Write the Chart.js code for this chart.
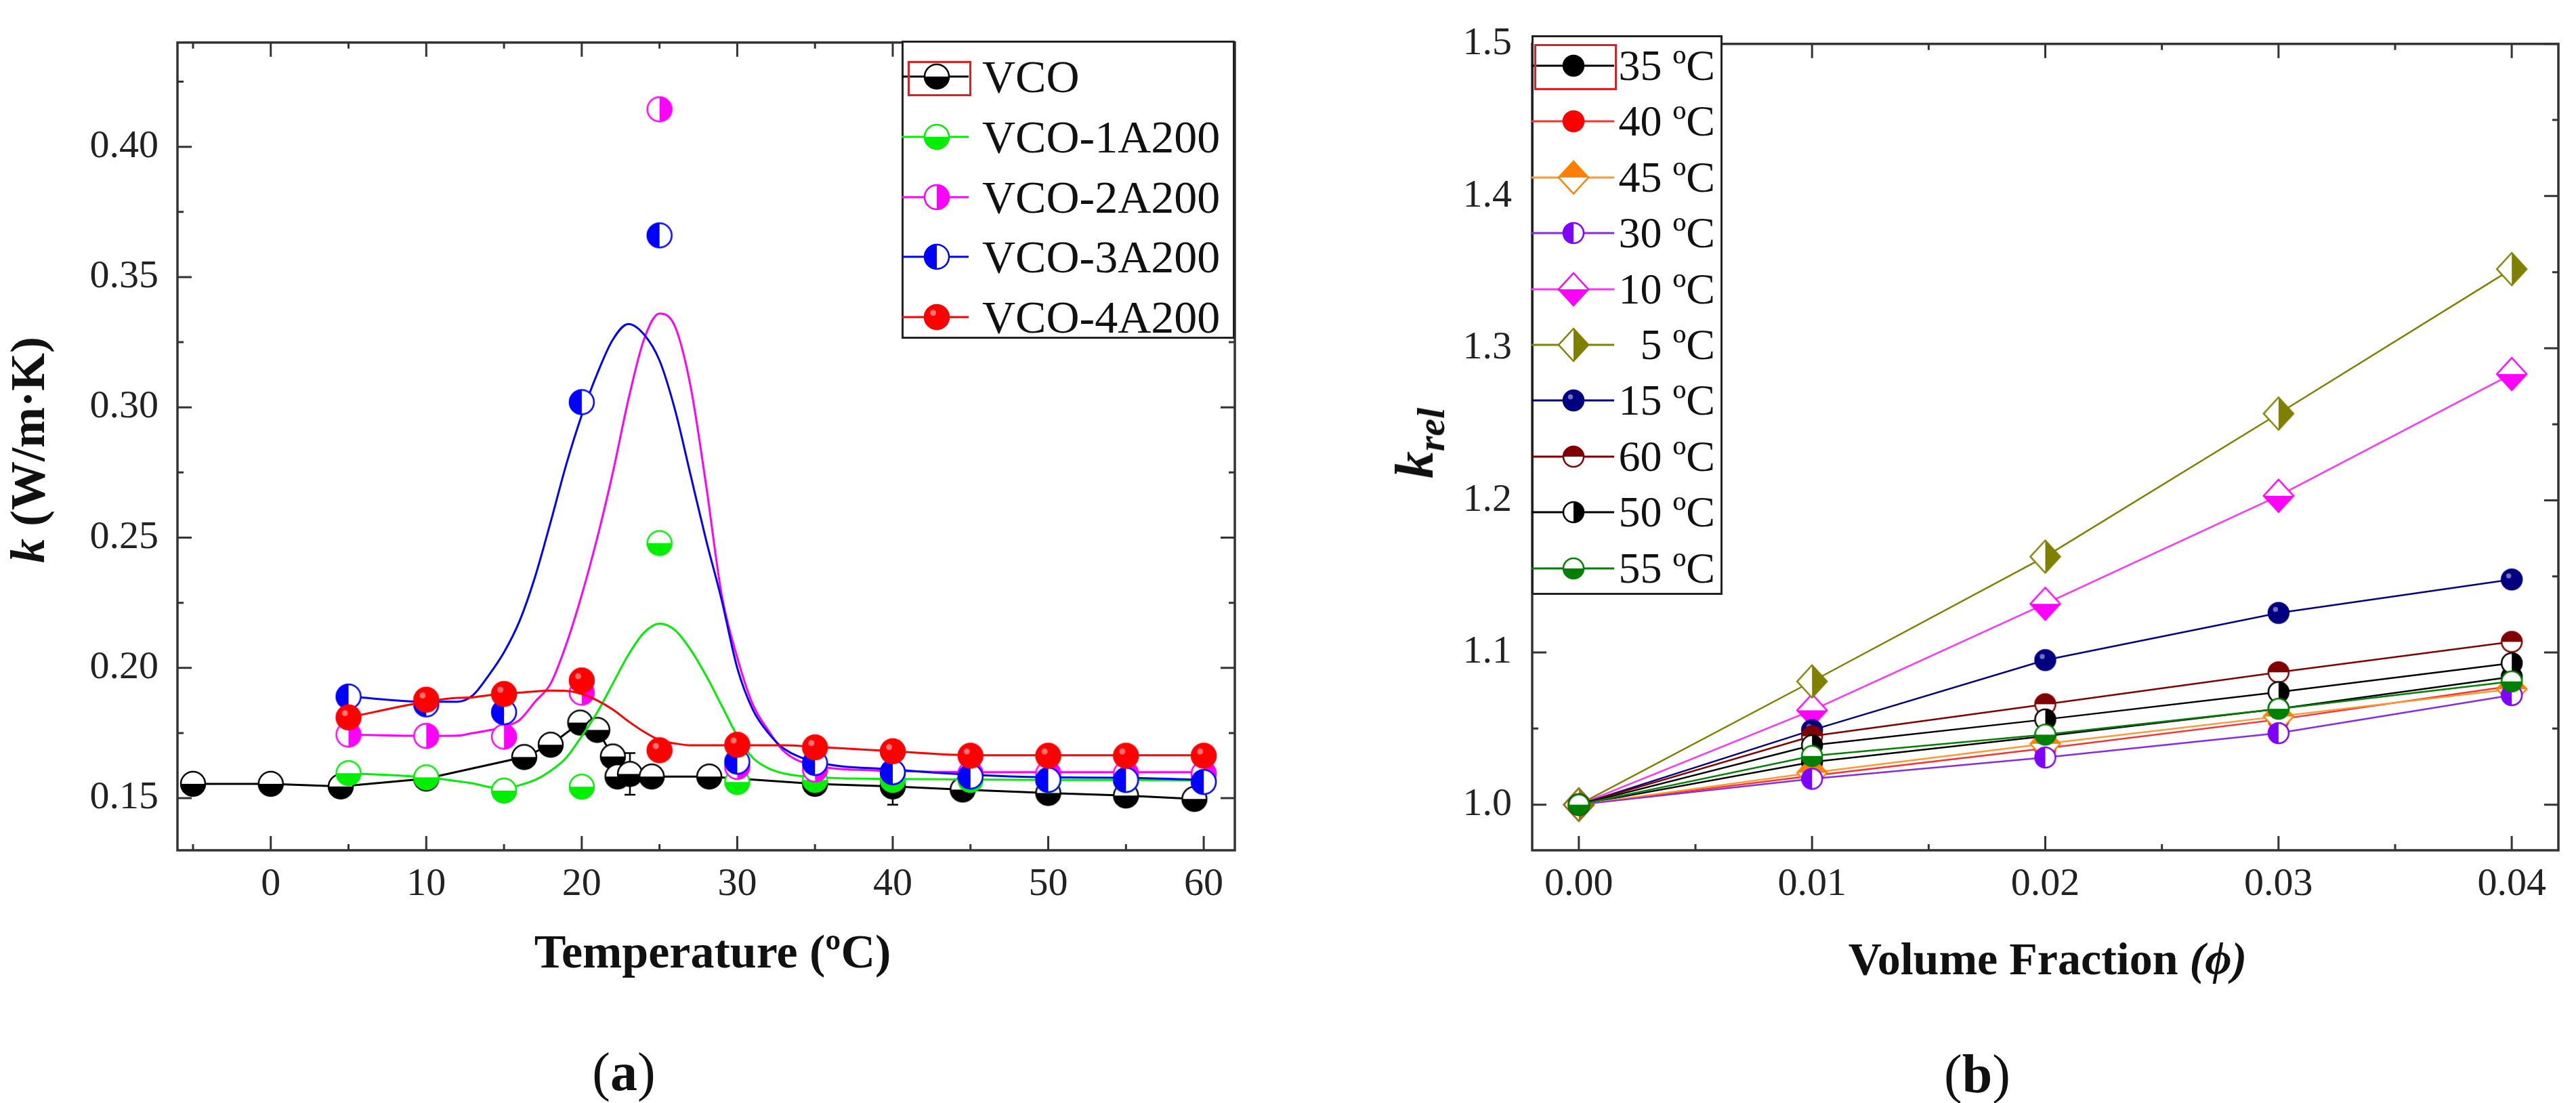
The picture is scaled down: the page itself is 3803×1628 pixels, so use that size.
<!DOCTYPE html>
<html>
<head>
<meta charset="utf-8">
<script src="https://cdn.jsdelivr.net/npm/chart.js@4.4.0/dist/chart.umd.min.js"></script>
<style>
  body { margin:0; background:#fff; width:3803px; height:1628px; position:relative; overflow:hidden;
         font-family:'Liberation Serif','Times New Roman',serif; color:#111; }
  canvas.chart { position:absolute; top:0; }
  .lbl { position:absolute; transform:translate(-50%,-50%); white-space:nowrap; line-height:1; }
  .legend { position:absolute; background:#fff; border:3px solid #222; box-sizing:border-box; }
  .legend span { position:absolute; white-space:nowrap; line-height:1; transform:translateY(-50%); }
  .legend canvas { position:absolute; }
</style>
</head>
<body>
<canvas id="chartA" class="chart" width="1900" height="1628" style="left:0"></canvas>
<canvas id="chartB" class="chart" width="1903" height="1628" style="left:1900px"></canvas>

<div class="lbl" style="left:41px;top:664px;transform:translate(-50%,-50%) rotate(-90deg);font-weight:bold;font-size:72px"><i>k</i> (W/m·K)</div>
<div class="lbl" style="left:1052px;top:1405px;font-weight:bold;font-size:70px">Temperature (ºC)</div>
<div class="lbl" style="left:921px;top:1582px;font-size:80px">(<b>a</b>)</div>

<div class="lbl" style="left:2095px;top:654px;transform:translate(-50%,-50%) rotate(-90deg);font-weight:bold;font-size:80px"><i>k<sub style="font-size:58px">rel</sub></i></div>
<div class="lbl" style="left:3023px;top:1415px;font-weight:bold;font-size:68px">Volume Fraction <i>(ϕ)</i></div>
<div class="lbl" style="left:2919px;top:1585px;font-size:80px">(<b>b</b>)</div>

<script>
// ---------- (a) k vs temperature ----------
const vcoT   = [-5, 0, 4.5, 10, 16.3, 18, 19.9, 21, 22, 22.3, 23.1, 24.5, 28.2, 35, 40, 44.5, 50, 55, 59.4];
const vcoK   = [0.1555, 0.1555, 0.1545, 0.1575, 0.1658, 0.1705, 0.179, 0.1762, 0.166, 0.1583, 0.1593, 0.1583, 0.1583, 0.1555, 0.1545, 0.1533, 0.152, 0.151, 0.1497];
const vcoErr = [0, 0, 0, 0, 0, 0, 0, 0, 0, 0, 0.008, 0, 0.003, 0.004, 0.007, 0, 0, 0, 0];

const dopedT = [5, 10, 15, 20, 25, 30, 35, 40, 45, 50, 55, 60];
const k1A = [0.1596, 0.158, 0.1529, 0.1544, 0.2479, 0.1562, 0.157, 0.157, 0.157, 0.157, 0.157, 0.157];
const k2A = [0.1744, 0.1739, 0.1736, 0.1905, 0.4144, 0.162, 0.161, 0.160, 0.1595, 0.1595, 0.1595, 0.1595];
const k3A = [0.189, 0.186, 0.183, 0.302, 0.366, 0.164, 0.1635, 0.160, 0.1583, 0.157, 0.157, 0.1562];
const k4A = [0.181, 0.1878, 0.190, 0.1952, 0.1684, 0.1705, 0.1695, 0.168, 0.1663, 0.1663, 0.1663, 0.1663];

// fitted curves
const fitT  = [5, 10, 12, 13, 14, 15, 16, 17, 18, 19, 20, 21, 22, 23, 24, 25, 26, 27, 28, 29, 30, 31, 32, 33, 35, 40, 45, 50, 55, 60];
const fit1A = [0.1596, 0.158, 0.1565, 0.1557, 0.1543, 0.1536, 0.155, 0.157, 0.1605, 0.1655, 0.1738, 0.183, 0.194, 0.205, 0.2135, 0.217, 0.2145, 0.207, 0.197, 0.1855, 0.174, 0.1655, 0.1615, 0.1595, 0.158, 0.1574, 0.1572, 0.157, 0.157, 0.1568];
const fit2A = [0.1744, 0.1739, 0.174, 0.175, 0.176, 0.1775, 0.180, 0.187, 0.194, 0.209, 0.228, 0.250, 0.275, 0.303, 0.326, 0.336, 0.331, 0.308, 0.270, 0.228, 0.204, 0.186, 0.176, 0.168, 0.1625, 0.1605, 0.160, 0.160, 0.160, 0.160];
const fit3A = [0.189, 0.187, 0.187, 0.1895, 0.197, 0.206, 0.218, 0.235, 0.256, 0.278, 0.297, 0.313, 0.326, 0.332, 0.328, 0.318, 0.299, 0.274, 0.249, 0.226, 0.200, 0.184, 0.175, 0.169, 0.164, 0.161, 0.159, 0.158, 0.1578, 0.157];
const fit4A = [0.181, 0.187, 0.1885, 0.1887, 0.1895, 0.190, 0.1905, 0.191, 0.1913, 0.1912, 0.190, 0.1875, 0.184, 0.1795, 0.1755, 0.1723, 0.171, 0.1703, 0.1703, 0.1703, 0.1703, 0.1703, 0.1703, 0.1703, 0.1697, 0.168, 0.1665, 0.1665, 0.1665, 0.1665];

const seriesA = ['VCO', 'VCO-1A200', 'VCO-2A200', 'VCO-3A200', 'VCO-4A200'];
const xMajorA = [0, 10, 20, 30, 40, 50, 60];
const xMinorA = [-5, 5, 15, 25, 35, 45, 55];
const yMajorA = [0.15, 0.20, 0.25, 0.30, 0.35, 0.40];
const yMinorA = [0.175, 0.225, 0.275, 0.325, 0.375, 0.425];

// ---------- (b) k_rel vs volume fraction ----------
const phi = [0, 0.01, 0.02, 0.03, 0.04];
const seriesB = ['35 ºC', '40 ºC', '45 ºC', '30 ºC', '10 ºC', ' 5 ºC', '15 ºC', '60 ºC', '50 ºC', '55 ºC'];
const k35 = [1, 1.028, 1.045, 1.063, 1.084];
const k40 = [1, 1.019, 1.037, 1.056, 1.078];
const k45 = [1, 1.021, 1.040, 1.058, 1.076];
const k30 = [1, 1.017, 1.031, 1.047, 1.072];
const k10 = [1, 1.062, 1.132, 1.203, 1.283];
const k05 = [1, 1.081, 1.163, 1.257, 1.352];
const k15 = [1, 1.049, 1.095, 1.126, 1.148];
const k60 = [1, 1.045, 1.066, 1.087, 1.107];
const k50 = [1, 1.039, 1.056, 1.074, 1.093];
const k55 = [1, 1.032, 1.046, 1.063, 1.081];
const xMajorB = [0, 0.01, 0.02, 0.03, 0.04];
const xMinorB = [0.005, 0.015, 0.025, 0.035];
const yMajorB = [1.0, 1.1, 1.2, 1.3, 1.4, 1.5];
const yMinorB = [1.05, 1.15, 1.25, 1.35, 1.45];

const FONT = "'Liberation Serif','Times New Roman',serif";

// half filled symbols, drawn once on little canvases and used as point styles
function makeMarker(shape, color, fill, rx, ry, shine) {
  const pad = 3;
  const c = document.createElement('canvas');
  c.width = Math.ceil(2 * rx + 2 * pad);
  c.height = Math.ceil(2 * ry + 2 * pad);
  const ctx = c.getContext('2d');
  const cx = c.width / 2, cy = c.height / 2;
  const path = () => {
    ctx.beginPath();
    if (shape === 'circle') ctx.arc(cx, cy, rx, 0, Math.PI * 2);
    else { ctx.moveTo(cx, cy - ry); ctx.lineTo(cx + rx, cy); ctx.lineTo(cx, cy + ry); ctx.lineTo(cx - rx, cy); ctx.closePath(); }
  };
  ctx.fillStyle = '#fff'; path(); ctx.fill();
  ctx.save();
  ctx.beginPath();
  if (fill === 'bottom') ctx.rect(0, cy, c.width, c.height);
  else if (fill === 'top') ctx.rect(0, 0, c.width, cy);
  else if (fill === 'left') ctx.rect(0, 0, cx, c.height);
  else if (fill === 'right') ctx.rect(cx, 0, c.width, c.height);
  else ctx.rect(0, 0, c.width, c.height);
  ctx.clip();
  ctx.fillStyle = color; path(); ctx.fill();
  ctx.restore();
  if (shine) {
    ctx.fillStyle = 'rgba(255,255,255,0.45)';
    ctx.beginPath(); ctx.arc(cx - rx * 0.3, cy - ry * 0.35, rx * 0.25, 0, Math.PI * 2); ctx.fill();
  }
  ctx.lineWidth = 2.5; ctx.strokeStyle = color; path(); ctx.stroke();
  return c;
}

const RA = 18, RB = 15, DX = 22, DY = 24;
const colorsA = ['#000000', '#00ee00', '#ff00ff', '#0000ff', '#ff0000'];
const markersA = [
  makeMarker('circle', colorsA[0], 'bottom', RA, RA),
  makeMarker('circle', colorsA[1], 'bottom', RA, RA),
  makeMarker('circle', colorsA[2], 'right', RA, RA),
  makeMarker('circle', colorsA[3], 'left', RA, RA),
  makeMarker('circle', colorsA[4], 'full', RA, RA, true)
];
const colorsB = ['#000000', '#ff0000', '#ff8000', '#8000ff', '#ff00ff', '#808000', '#000080', '#800000', '#000000', '#008000'];
const markersB = [
  makeMarker('circle', colorsB[0], 'full', RB, RB),
  makeMarker('circle', colorsB[1], 'full', RB, RB),
  makeMarker('diamond', colorsB[2], 'top', DX, DY),
  makeMarker('circle', colorsB[3], 'left', RB, RB),
  makeMarker('diamond', colorsB[4], 'bottom', DX, DY),
  makeMarker('diamond', colorsB[5], 'right', DX, DY),
  makeMarker('circle', colorsB[6], 'full', RB, RB, true),
  makeMarker('circle', colorsB[7], 'top', RB, RB),
  makeMarker('circle', colorsB[8], 'right', RB, RB),
  makeMarker('circle', colorsB[9], 'bottom', RB, RB)
];

const pts = (xs, ys) => xs.map((x, i) => ({ x: x, y: ys[i] }));

// box around the plot with inward major/minor ticks on all four sides
const framePlugin = {
  id: 'frame',
  afterDatasetsDraw(chart, args, opts) {
    const { ctx, chartArea: a, scales: { x, y } } = chart;
    ctx.save();
    ctx.strokeStyle = '#333';
    ctx.lineWidth = 3;
    ctx.beginPath();
    const tick = (vals, len) => {
      vals.forEach(v => {
        const px = x.getPixelForValue(v);
        if (px < a.left || px > a.right) return;
        ctx.moveTo(px, a.bottom); ctx.lineTo(px, a.bottom - len);
        ctx.moveTo(px, a.top); ctx.lineTo(px, a.top + len);
      });
    };
    const tickY = (vals, len) => {
      vals.forEach(v => {
        const py = y.getPixelForValue(v);
        if (py < a.top || py > a.bottom) return;
        ctx.moveTo(a.left, py); ctx.lineTo(a.left + len, py);
        ctx.moveTo(a.right, py); ctx.lineTo(a.right - len, py);
      });
    };
    tick(x.ticks.map(t => t.value), 21);
    tick(opts.xMinor, 9);
    tickY(y.ticks.map(t => t.value), 21);
    tickY(opts.yMinor, 9);
    ctx.stroke();
    ctx.lineWidth = 3.5;
    ctx.strokeRect(a.left, a.top, a.right - a.left, a.bottom - a.top);
    ctx.restore();
  }
};

// vertical error bars for datasets carrying an "errors" array
const errorPlugin = {
  id: 'errbars',
  beforeDatasetDraw(chart, args) {
    const ds = chart.data.datasets[args.index];
    if (!ds.errors) return;
    const { ctx, scales: { y } } = chart;
    ctx.save();
    ctx.strokeStyle = ds.borderColor;
    ctx.lineWidth = 2.5;
    ctx.beginPath();
    args.meta.data.forEach((el, i) => {
      const e = ds.errors[i];
      if (!e) return;
      const v = ds.data[i].y;
      const top = y.getPixelForValue(v + e), bot = y.getPixelForValue(v - e);
      ctx.moveTo(el.x, top); ctx.lineTo(el.x, bot);
      ctx.moveTo(el.x - 8, top); ctx.lineTo(el.x + 8, top);
      ctx.moveTo(el.x - 8, bot); ctx.lineTo(el.x + 8, bot);
    });
    ctx.stroke();
    ctx.restore();
  }
};

function axisOptions(min, max, majors, fmt, fitSize, isX, pad) {
  return {
    type: 'linear', min: min, max: max,
    afterBuildTicks: s => { s.ticks = majors.map(v => ({ value: v })); },
    afterFit: s => { if (isX) s.height = fitSize; else s.width = fitSize; },
    grid: { display: false, drawTicks: false },
    border: { display: false },
    ticks: { color: '#222', padding: pad, font: { family: FONT, size: 58 }, callback: v => fmt(v) }
  };
}

// ---------- chart (a) ----------
const dsA = [
  { label: seriesA[0], data: pts(vcoT, vcoK), showLine: true, borderColor: colorsA[0], borderWidth: 3,
    pointStyle: markersA[0], pointRadius: RA, errors: vcoErr, order: 9 },
  { label: seriesA[1] + ' fit', data: pts(fitT, fit1A), showLine: true, borderColor: colorsA[1], borderWidth: 3,
    pointRadius: 0, cubicInterpolationMode: 'monotone', order: 8 },
  { label: seriesA[1], data: pts(dopedT, k1A), showLine: false, pointStyle: markersA[1], pointRadius: RA, order: 7 },
  { label: seriesA[2] + ' fit', data: pts(fitT, fit2A), showLine: true, borderColor: colorsA[2], borderWidth: 3,
    pointRadius: 0, cubicInterpolationMode: 'monotone', order: 6 },
  { label: seriesA[2], data: pts(dopedT, k2A), showLine: false, pointStyle: markersA[2], pointRadius: RA, order: 5 },
  { label: seriesA[3] + ' fit', data: pts(fitT, fit3A), showLine: true, borderColor: colorsA[3], borderWidth: 3,
    pointRadius: 0, cubicInterpolationMode: 'monotone', order: 4 },
  { label: seriesA[3], data: pts(dopedT, k3A), showLine: false, pointStyle: markersA[3], pointRadius: RA, order: 3 },
  { label: seriesA[4] + ' fit', data: pts(fitT, fit4A), showLine: true, borderColor: colorsA[4], borderWidth: 3,
    pointRadius: 0, cubicInterpolationMode: 'monotone', order: 2 },
  { label: seriesA[4], data: pts(dopedT, k4A), showLine: false, pointStyle: markersA[4], pointRadius: RA, order: 1 }
];

new Chart(document.getElementById('chartA'), {
  type: 'scatter',
  data: { datasets: dsA },
  options: {
    responsive: false, animation: false, devicePixelRatio: 1,
    layout: { padding: { left: 0, top: 60, right: 77, bottom: 0 } },
    plugins: { legend: { display: false }, tooltip: { enabled: false },
               frame: { xMinor: xMinorA, yMinor: yMinorA } },
    scales: {
      x: axisOptions(-6, 62, xMajorA, v => String(v), 373, true, 16),
      y: axisOptions(0.13, 0.44, yMajorA, v => v.toFixed(2), 262, false, 28)
    }
  },
  plugins: [errorPlugin, framePlugin]
});

// ---------- chart (b) ----------
const kB = [k35, k40, k45, k30, k10, k05, k15, k60, k50, k55];
const lineColorsB = ['#000000', '#ff3030', '#ff9933', '#8a2be2', '#ff33ff', '#808000', '#000080', '#800000', '#000000', '#008000'];
const dsB = kB.map((k, i) => ({
  label: seriesB[i], data: pts(phi, k), showLine: true, borderColor: lineColorsB[i], borderWidth: 2.5,
  pointStyle: markersB[i], pointRadius: RB, order: kB.length - i
}));

new Chart(document.getElementById('chartB'), {
  type: 'scatter',
  data: { datasets: dsB },
  options: {
    responsive: false, animation: false, devicePixelRatio: 1,
    layout: { padding: { left: 0, top: 53, right: 26, bottom: 0 } },
    plugins: { legend: { display: false }, tooltip: { enabled: false },
               frame: { xMinor: xMinorB, yMinor: yMinorB } },
    scales: {
      x: axisOptions(-0.002, 0.042, xMajorB, v => v.toFixed(2), 373, true, 16),
      y: axisOptions(0.97, 1.5, yMajorB, v => v.toFixed(1), 362, false, 30)
    }
  },
  plugins: [framePlugin]
});

// ---------- legends (html, symbols on small canvases) ----------
function buildLegend(box, labels, markers, colors, geo) {
  const div = document.createElement('div');
  div.className = 'legend';
  Object.assign(div.style, { left: box.left + 'px', top: box.top + 'px',
    width: (box.right - box.left) + 'px', height: (box.bottom - box.top) + 'px' });
  labels.forEach((lab, i) => {
    const cy = geo.firstY + i * geo.step - box.top;
    const sym = document.createElement('canvas');
    const h = 60;
    sym.width = geo.lineRight - box.left; sym.height = h;
    sym.style.left = '-3px'; sym.style.top = (cy - h / 2 - 3) + 'px';
    const c = sym.getContext('2d');
    c.strokeStyle = colors[i]; c.lineWidth = 3;
    c.beginPath(); c.moveTo(0, h / 2); c.lineTo(sym.width, h / 2); c.stroke();
    const m = markers[i];
    c.drawImage(m, geo.markX - box.left - m.width / 2, h / 2 - m.height / 2);
    div.appendChild(sym);
    const sp = document.createElement('span');
    sp.textContent = lab;
    sp.style.fontSize = geo.fontSize + 'px';
    sp.style.top = (cy - 3) + 'px';
    if (geo.textRight) sp.style.right = (box.right - geo.textRight - 3) + 'px';
    else sp.style.left = (geo.textLeft - box.left - 3) + 'px';
    if (i === 0) {
      const r = document.createElement('div');
      Object.assign(r.style, { position: 'absolute', border: '3px solid #e02020', boxSizing: 'border-box',
        left: (geo.sel[0] - box.left - 3) + 'px', top: (geo.sel[1] - box.top - 3) + 'px',
        width: (geo.sel[2] - geo.sel[0]) + 'px', height: (geo.sel[3] - geo.sel[1]) + 'px' });
      div.appendChild(r);
    }
    div.appendChild(sp);
  });
  document.body.appendChild(div);
}

buildLegend({ left: 1331, top: 60, right: 1823, bottom: 500 }, seriesA, markersA, colorsA,
  { firstY: 113, step: 88.75, lineRight: 1430, markX: 1383, textLeft: 1450, fontSize: 68, sel: [1340, 90, 1434, 142] });

buildLegend({ left: 2261, top: 52, right: 2543, bottom: 878 }, seriesB, markersB, lineColorsB,
  { firstY: 97, step: 82.4, lineRight: 2383, markX: 2323, textRight: 2532, fontSize: 64, sel: [2265, 65, 2387, 133] });
</script>
</body>
</html>
